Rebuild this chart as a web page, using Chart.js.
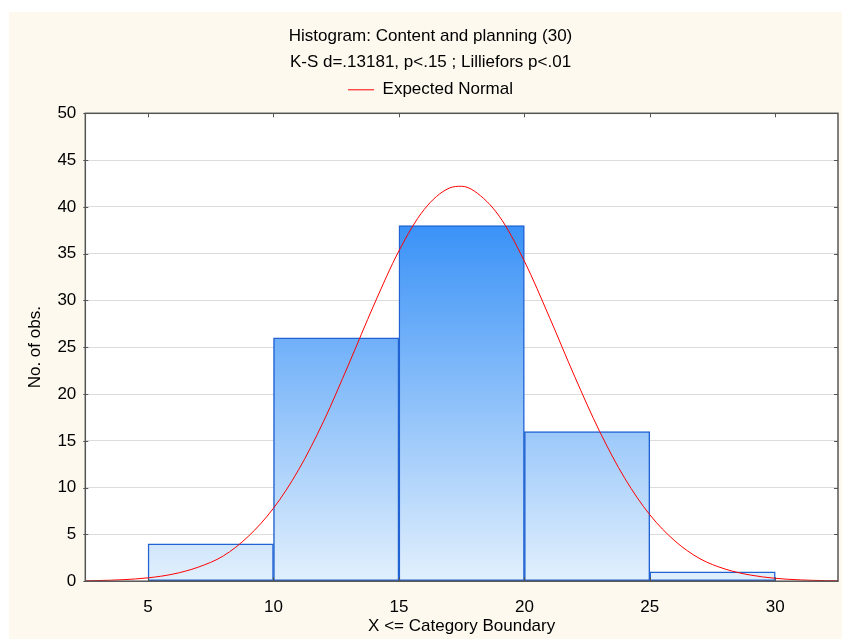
<!DOCTYPE html>
<html>
<head>
<meta charset="utf-8">
<script src="https://cdn.jsdelivr.net/npm/chart.js@4.4.0/dist/chart.umd.min.js"></script>
<style>
  html, body { margin: 0; padding: 0; background: #fff; overflow: hidden; }
  #panel { position: absolute; left: 9px; top: 12px; width: 848px; height: 627px; background: #fdf9ef; }
</style>
</head>
<body>
<div id="panel"><canvas id="histogram_chart"></canvas></div>
<script>
// histogram bins (centre of each 5-wide class) and counts
const binCentres = [7.5, 12.5, 17.5, 22.5, 27.5]
const binCounts = [4, 26, 38, 16, 1]

// expected normal curve
const normalX = [2.5, 3, 4, 5, 6, 7, 8, 9, 10, 11, 12, 13, 14, 15, 16, 17, 17.5, 18, 19, 20,
    21, 22, 23, 24, 25, 26, 27, 28, 29, 30, 31, 32, 32.5]
const normalY = [0.04, 0.07, 0.16, 0.36, 0.76, 1.5, 2.7, 4.8, 7.8, 11.9, 17.1, 23.2, 29.5, 35.3, 39.7, 42.0, 42.2, 41.7, 39.0, 34.2,
    28.2, 21.9, 16.0, 11.0, 7.1, 4.3, 2.4, 1.3, 0.66, 0.31, 0.14, 0.06, 0.04]

const xTicks = [5, 10, 15, 20, 25, 30]
const yTicks = [0, 5, 10, 15, 20, 25, 30, 35, 40, 45, 50]

const FONT = "'Liberation Sans', Arial, sans-serif"

// white plot area, dark frame and small inward tick marks
const plotFrame = {
    id: 'plotFrame',
    beforeDraw(chart) {
        const { ctx, chartArea: a } = chart
        ctx.save()
        ctx.fillStyle = '#ffffff'
        ctx.fillRect(a.left, a.top, a.right - a.left, a.bottom - a.top)
        ctx.restore()
    },
    afterDraw(chart) {
        const { ctx, chartArea: a, scales } = chart
        ctx.save()
        ctx.strokeStyle = '#555555'
        ctx.lineWidth = 1.5
        ctx.strokeRect(a.left, a.top, a.right - a.left, a.bottom - a.top)
        ctx.lineWidth = 1
        ctx.beginPath()
        for (const v of xTicks) {
            const px = Math.round(scales.x.getPixelForValue(v)) + 0.5
            ctx.moveTo(px, a.top); ctx.lineTo(px, a.top + 4)
            ctx.moveTo(px, a.bottom); ctx.lineTo(px, a.bottom - 4)
        }
        for (const v of yTicks) {
            const py = Math.round(scales.y.getPixelForValue(v)) + 0.5
            ctx.moveTo(a.left - 2, py); ctx.lineTo(a.left + 3, py)
            ctx.moveTo(a.right, py); ctx.lineTo(a.right - 4, py)
        }
        ctx.stroke()
        ctx.restore()
    }
}

function barGradient(context) {
    const { chart } = context
    if (!chart.chartArea) return '#7ab6f8'
    const yScale = chart.scales.y
    const top = yScale.getPixelForValue(Math.max(...binCounts))
    const bottom = yScale.getPixelForValue(0)
    const g = chart.ctx.createLinearGradient(0, top, 0, bottom)
    g.addColorStop(0, '#3a92f7')
    g.addColorStop(1, '#e2f0fd')
    return g
}

const ctx = document.getElementById('histogram_chart')

const histogramChart = new Chart(ctx, {
    type: 'bar',
    data: {
        datasets: [{
            type: 'line',
            label: 'Expected Normal',
            data: normalX.map((x, i) => ({ x: x, y: normalY[i] })),
            borderColor: '#ff0000',
            borderWidth: 1,
            pointRadius: 0,
            cubicInterpolationMode: 'monotone',
            order: 1,
        }, {
            type: 'bar',
            label: 'Histogram',
            data: binCentres.map((x, i) => ({ x: x, y: binCounts[i] })),
            backgroundColor: barGradient,
            borderColor: '#2163d3',
            borderWidth: 1.5,
            borderSkipped: false,
            categoryPercentage: 1,
            barPercentage: 1,
            order: 2,
        }]
    },
    options: {
        responsive: true,
        maintainAspectRatio: false,
        animation: false,
        layout: { padding: { left: 14, right: 19, top: 0, bottom: 2 } },
        plugins: {
            title: {
                display: true,
                text: 'Histogram: Content and planning (30)',
                color: '#000',
                font: { family: FONT, size: 17, weight: 'normal' },
                padding: { top: 14, bottom: 3 },
            },
            subtitle: {
                display: true,
                text: 'K-S d=.13181, p<.15 ; Lilliefors p<.01',
                color: '#000',
                font: { family: FONT, size: 17 },
                padding: { top: 3, bottom: -5 },
            },
            legend: {
                display: true,
                labels: {
                    filter: item => item.text === 'Expected Normal',
                    usePointStyle: true,
                    pointStyle: 'line',
                    pointStyleWidth: 26,
                    color: '#000',
                    font: { family: FONT, size: 17 },
                    padding: 13.5,
                },
            },
            tooltip: { enabled: false },
        },
        scales: {
            x: {
                type: 'linear',
                min: 2.5,
                max: 32.5,
                offset: false,
                afterBuildTicks: scale => { scale.ticks = xTicks.map(v => ({ value: v })) },
                grid: { display: false, drawTicks: false },
                border: { display: false },
                ticks: { color: '#000', font: { family: FONT, size: 17 }, padding: 16 },
                title: {
                    display: true,
                    text: 'X <= Category Boundary',
                    color: '#000',
                    font: { family: FONT, size: 17 },
                    padding: { top: -17, bottom: 0 },
                },
            },
            // empty strip between the legend and the plot
            gap: {
                type: 'linear',
                position: 'top',
                afterFit: scale => { scale.height = 5 },
                grid: { display: false, drawTicks: false },
                border: { display: false },
                ticks: { display: false },
            },
            y: {
                min: 0,
                max: 50,
                afterBuildTicks: scale => { scale.ticks = yTicks.map(v => ({ value: v })) },
                grid: { color: '#dcdcdc', drawTicks: false },
                border: { display: false },
                ticks: { color: '#000', font: { family: FONT, size: 17 }, padding: 9 },
                title: {
                    display: true,
                    text: 'No. of obs.',
                    color: '#000',
                    font: { family: FONT, size: 17 },
                    padding: { top: 2, bottom: 3 },
                },
            },
        },
    },
    plugins: [plotFrame],
})
</script>
</body>
</html>
